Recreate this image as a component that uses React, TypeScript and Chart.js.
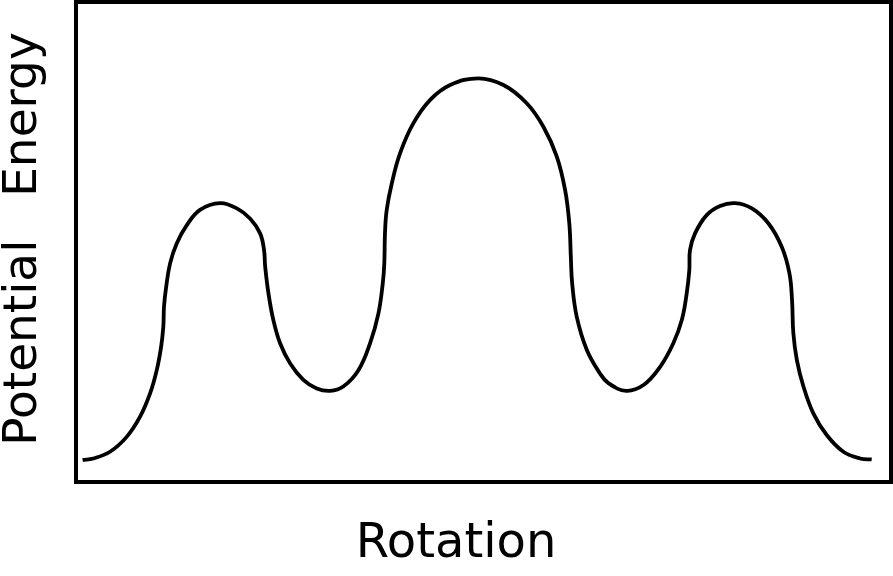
import { useEffect, useRef } from "react";
import { Chart, registerables } from "chart.js";

Chart.register(...registerables);

// Rotation angle (degrees) and relative potential energy
const rotationDeg = [
  0, 4.9, 12.5, 20.1, 26.2, 30.8, 33.8, 35.8, 36.8, 37.1, 38.1, 39.9, 42.9, 47.5, 53.5,
  62.7, 70.3, 76.3, 80.9, 82.7, 83.2, 84.7, 86.9, 90.0, 94.6, 100.6, 106.7, 112.8, 118.8,
  125.7, 131.0, 134.8, 136.8, 137.5, 137.8, 138.6, 140.9, 144.7, 150.7, 158.4, 167.5,
  180.4, 191.8, 202.4, 210.0, 216.1, 219.9, 221.8, 222.5, 223.1, 225.2, 229.8, 235.8,
  239.6, 247.7, 255.6, 263.2, 269.2, 273.1, 275.3, 276.5, 276.8, 279.1, 284.4, 290.5,
  297.3, 305.0, 312.5, 318.6, 322.1, 323.3, 323.9, 325.5, 328.5, 333.0, 339.1, 346.7,
  354.3, 359.6,
];
const energy = [
  4.6, 4.9, 6.3, 9.4, 13.6, 18.5, 23.3, 28.2, 32.4, 36.5, 40.7, 45.6, 49.7, 53.5, 56.7,
  58.1, 57.0, 54.9, 51.8, 48.3, 44.9, 39.3, 33.8, 28.9, 24.7, 21.3, 19.5, 19.0, 19.9,
  23.3, 28.9, 35.1, 41.4, 45.6, 51.8, 56.7, 62.2, 68.5, 74.7, 79.6, 82.7,
  84.1, 82.7, 78.9, 74.0, 67.8, 60.8, 53.9, 46.9, 41.4, 34.4, 27.5, 22.6,
  20.6, 19.0, 20.2, 24.0, 28.9, 33.8, 39.3, 44.2, 48.3, 51.8, 55.6, 57.5,
  58.1, 57.0, 53.9, 49.0, 43.5, 37.9, 31.0, 25.4, 19.9, 14.3, 9.8, 6.3,
  4.9, 4.7,
];

const xTitle = "Rotation";
const yTitle = "Potential Energy";
const xRange = [-3, 368.4];
const yRange = [0, 100];

const framePlugin = {
  id: "frame",
  afterDraw(chart: any) {
    const { ctx, chartArea } = chart;
    const { left, top, right, bottom } = chartArea;
    ctx.save();
    ctx.strokeStyle = "#000";
    ctx.lineWidth = 4;
    ctx.strokeRect(left, top, right - left, bottom - top);
    ctx.restore();
  },
};

const titlesPlugin = {
  id: "titles",
  afterDraw(chart: any) {
    const { ctx } = chart;
    ctx.save();
    ctx.fillStyle = "#000";
    ctx.textAlign = "center";
    ctx.textBaseline = "alphabetic";
    ctx.font = '48px "DejaVu Sans"';
    ctx.fillText(xTitle, 456, 557);
    ctx.restore();

    ctx.save();
    ctx.fillStyle = "#000";
    ctx.textAlign = "center";
    ctx.textBaseline = "alphabetic";
    ctx.font = '47px "DejaVu Sans"';
    try {
      (ctx as any).wordSpacing = "28px";
    } catch (e) {}
    ctx.translate(36, 239);
    ctx.rotate(-Math.PI / 2);
    ctx.fillText(yTitle, 0, 0);
    ctx.restore();
  },
};

export default function App() {
  const canvasRef = useRef<HTMLCanvasElement | null>(null);

  useEffect(() => {
    const canvas = canvasRef.current;
    if (!canvas) return;
    const points = rotationDeg.map((x, i) => ({ x, y: energy[i] }));
    const chart = new Chart(canvas, {
      type: "line",
      data: {
        datasets: [
          {
            data: points,
            borderColor: "#000",
            borderWidth: 3.8,
            pointRadius: 0,
            fill: false,
            tension: 0.4,
          },
        ],
      },
      options: {
        animation: false,
        responsive: false,
        devicePixelRatio: 1,
        layout: { padding: { left: 76, top: 2, right: 2, bottom: 94 } },
        plugins: {
          legend: { display: false },
          tooltip: { enabled: false },
          title: { display: false },
        },
        scales: {
          x: { type: "linear", min: xRange[0], max: xRange[1], display: false },
          y: { type: "linear", min: yRange[0], max: yRange[1], display: false },
        },
      },
      plugins: [framePlugin, titlesPlugin],
    });
    return () => chart.destroy();
  }, []);

  return (
    <div style={{ position: "fixed", left: 0, top: 0, width: 893, height: 576, background: "#fff" }}>
      <canvas ref={canvasRef} width={893} height={576} style={{ display: "block" }} />
    </div>
  );
}
